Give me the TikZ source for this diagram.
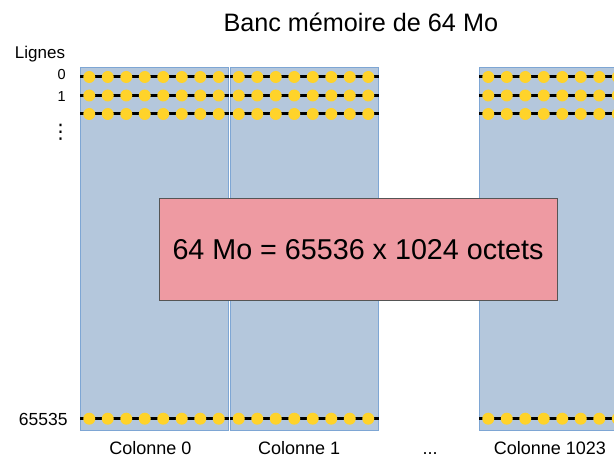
\documentclass[tikz,border=0pt]{standalone}
\usepackage{fontspec}
\setmainfont{Liberation Sans}
\newfontfamily\dejavu{DejaVu Sans}
\definecolor{colfill}{HTML}{B4C7DC}
\definecolor{coldraw}{HTML}{7EA6D4}
\definecolor{dotfill}{HTML}{FFD32A}
\definecolor{pinkfill}{HTML}{EE9AA2}
\definecolor{pinkdraw}{HTML}{555555}
\begin{document}
\begin{tikzpicture}[x=1pt,y=-1pt,
  colbox/.style={draw=coldraw, line width=1pt, fill=colfill, minimum width=148pt,
    minimum height=363pt, inner sep=0pt, anchor=north west},
  bit/.style={circle, fill=dotfill, minimum size=12pt, inner sep=0pt},
  rowline/.style={line width=3pt, black},
  rowlbl/.style={font=\fontsize{14.5}{17}\selectfont, inner sep=0pt, anchor=base},
  biglbl/.style={font=\fontsize{17.5}{20}\selectfont, inner sep=0pt, anchor=base},
  collbl/.style={font=\fontsize{18}{20}\selectfont, inner sep=0pt, anchor=base},
  capbox/.style={draw=pinkdraw, line width=1pt, fill=pinkfill, minimum width=398pt,
    minimum height=102pt, inner sep=0pt, font=\fontsize{28.7}{32}\selectfont},
  titlelbl/.style={font=\fontsize{25.2}{28}\selectfont, inner sep=0pt, anchor=base}]
\useasboundingbox (0,0) rectangle (614,457);
\clip (0,0) rectangle (614,457);
% columns
\node[colbox] (c0) at (80,67) {};
\node[colbox] (c1) at (229.5,67) {};
\node[colbox] (c2) at (479,67) {};
% rows
\foreach \c/\cx in {c0/80,c1/229.5,c2/479}{
  \foreach \r/\ry in {0/77,1/95.5,2/114,3/418.7}{
    \coordinate (\c r\r a) at (\c.west |- 0,\ry);
    \coordinate (\c r\r b) at (\c.east |- 0,\ry);
    \draw[rowline] (\c r\r a) -- (\c r\r b);
    \foreach \i in {0,...,7}{
      \node[bit] (\c r\r d\i) at (\cx+9.25+18.5*\i,\ry) {};
    }
  }
}
% capacity box
\node[capbox] (cap) at (358,250) {64 Mo = 65536 x 1024 octets};
% labels
\node[titlelbl] (title) at (360.8,31.7) {Banc mémoire de 64 Mo};
\node[biglbl, font=\fontsize{17}{20}\selectfont] (lignes) at (40,58.5) {Lignes};
\node[rowlbl] (l0) at (61.7,79.3) {0};
\node[rowlbl] (l1) at (61.7,101.3) {1};
\node[inner sep=0pt, font=\dejavu\fontsize{20}{22}\selectfont] (lv) at (60.7,132) {⋮};
\node[biglbl] (l3) at (43.3,425) {65535};
\node[collbl] (k0) at (150.5,454.5) {Colonne 0};
\node[collbl] (k1) at (299.2,454.5) {Colonne 1};
\node[collbl] (kd) at (430,454.5) {...};
\node[collbl] (k2) at (550,454.5) {Colonne 1023};
\end{tikzpicture}
\end{document}
